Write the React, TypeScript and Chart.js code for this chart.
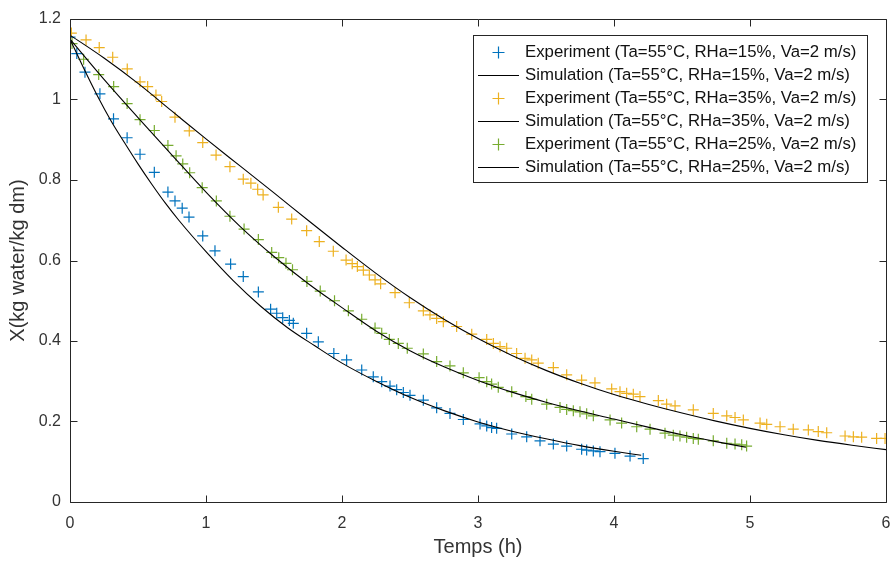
import React, { useEffect, useRef } from 'react';
import { Chart, registerables } from 'chart.js';

Chart.register(...registerables);

// ---- Data ----
const xTicks = [0, 1, 2, 3, 4, 5, 6];
const yTicks = [0, 0.2, 0.4, 0.6, 0.8, 1, 1.2];
const xTitle = 'Temps (h)';
const yTitle = 'X(kg water/kg dm)';

const labels = [
  'Experiment (Ta=55°C, RHa=15%, Va=2 m/s)',
  'Simulation (Ta=55°C, RHa=15%, Va=2 m/s)',
  'Experiment (Ta=55°C, RHa=35%, Va=2 m/s)',
  'Simulation (Ta=55°C, RHa=35%, Va=2 m/s)',
  'Experiment (Ta=55°C, RHa=25%, Va=2 m/s)',
  'Simulation (Ta=55°C, RHa=25%, Va=2 m/s)',
];

const colors = ['#0072BD', '#000000', '#EDB120', '#000000', '#77AC30', '#000000'];

const exp15: [number, number][] = [
  [0, 1.155], [0.05, 1.114], [0.11, 1.068], [0.22, 1.014], [0.32, 0.952], [0.42, 0.905],
  [0.515, 0.864], [0.62, 0.819], [0.72, 0.77], [0.772, 0.748], [0.825, 0.73], [0.875, 0.708],
  [0.976, 0.661], [1.066, 0.624], [1.181, 0.591], [1.274, 0.56], [1.385, 0.522], [1.475, 0.479],
  [1.52, 0.469], [1.564, 0.458], [1.613, 0.451], [1.642, 0.444], [1.74, 0.419], [1.826, 0.398],
  [1.94, 0.369], [2.034, 0.353], [2.145, 0.328], [2.23, 0.311], [2.292, 0.299], [2.353, 0.288],
  [2.402, 0.279], [2.451, 0.272], [2.5, 0.265], [2.598, 0.253], [2.696, 0.234], [2.794, 0.22],
  [2.892, 0.205], [3.015, 0.194], [3.064, 0.189], [3.1, 0.185], [3.137, 0.183], [3.248, 0.169],
  [3.358, 0.162], [3.456, 0.152], [3.554, 0.144], [3.652, 0.139], [3.762, 0.131], [3.799, 0.129],
  [3.848, 0.127], [3.897, 0.125], [4.007, 0.121], [4.118, 0.114], [4.215, 0.108],
];

const sim15: [number, number][] = [
  [0, 1.15], [0.1, 1.078], [0.2, 1.01], [0.3, 0.948], [0.4, 0.893], [0.5, 0.84], [0.6, 0.79],
  [0.7, 0.743], [0.8, 0.7], [1.0, 0.622], [1.2, 0.55], [1.4, 0.487], [1.6, 0.433], [1.8, 0.388],
  [2.0, 0.345], [2.25, 0.3], [2.5, 0.26], [2.75, 0.227], [3.0, 0.199], [3.25, 0.176],
  [3.5, 0.157], [3.75, 0.14], [4.0, 0.126], [4.2, 0.116],
];

const exp35: [number, number][] = [
  [0.01, 1.165], [0.118, 1.148], [0.215, 1.129], [0.314, 1.105], [0.421, 1.076], [0.515, 1.044],
  [0.571, 1.032], [0.632, 1.011], [0.674, 0.995], [0.772, 0.956], [0.877, 0.922], [0.976, 0.893],
  [1.074, 0.862], [1.176, 0.833], [1.274, 0.802], [1.33, 0.792], [1.38, 0.777], [1.42, 0.763],
  [1.532, 0.732], [1.63, 0.703], [1.74, 0.674], [1.833, 0.647], [1.936, 0.623], [2.03, 0.601],
  [2.075, 0.592], [2.113, 0.585], [2.157, 0.576], [2.201, 0.564], [2.243, 0.552], [2.284, 0.542],
  [2.39, 0.52], [2.495, 0.495], [2.598, 0.475], [2.647, 0.465], [2.696, 0.456], [2.745, 0.448],
  [2.843, 0.436], [2.954, 0.417], [3.064, 0.404], [3.113, 0.394], [3.162, 0.386], [3.211, 0.382],
  [3.284, 0.369], [3.346, 0.357], [3.395, 0.353], [3.443, 0.345], [3.554, 0.334], [3.652, 0.316],
  [3.762, 0.303], [3.86, 0.296], [3.983, 0.281], [4.044, 0.274], [4.093, 0.27], [4.142, 0.268],
  [4.191, 0.262], [4.326, 0.252], [4.387, 0.243], [4.449, 0.239], [4.583, 0.229], [4.73, 0.22],
  [4.829, 0.214], [4.89, 0.21], [4.951, 0.204], [5.074, 0.196], [5.123, 0.193], [5.221, 0.187],
  [5.318, 0.181], [5.429, 0.179], [5.502, 0.175], [5.564, 0.172], [5.699, 0.164], [5.76, 0.162],
  [5.821, 0.161], [5.931, 0.158], [5.993, 0.158],
];

const sim35: [number, number][] = [
  [0, 1.16], [0.25, 1.103], [0.5, 1.04], [0.75, 0.971], [1.0, 0.902], [1.25, 0.835], [1.5, 0.768],
  [1.75, 0.7], [2.0, 0.633], [2.25, 0.568], [2.5, 0.508], [2.75, 0.454], [3.0, 0.406], [3.25, 0.364],
  [3.5, 0.327], [3.75, 0.295], [4.0, 0.267], [4.25, 0.243], [4.5, 0.221], [4.75, 0.201],
  [5.0, 0.183], [5.25, 0.167], [5.5, 0.153], [5.75, 0.141], [6.0, 0.13],
];

const exp25: [number, number][] = [
  [0.015, 1.139], [0.1, 1.1], [0.211, 1.062], [0.321, 1.032], [0.42, 0.99], [0.515, 0.95],
  [0.62, 0.923], [0.72, 0.886], [0.78, 0.86], [0.829, 0.84], [0.88, 0.818], [0.972, 0.781],
  [1.076, 0.748], [1.176, 0.71], [1.28, 0.678], [1.385, 0.652], [1.483, 0.62], [1.535, 0.607],
  [1.588, 0.593], [1.636, 0.577], [1.742, 0.548], [1.84, 0.524], [1.945, 0.5], [2.047, 0.475],
  [2.145, 0.454], [2.243, 0.432], [2.292, 0.419], [2.348, 0.404], [2.414, 0.394], [2.48, 0.382],
  [2.598, 0.368], [2.696, 0.349], [2.794, 0.338], [2.892, 0.321], [3.008, 0.309], [3.064, 0.299],
  [3.1, 0.293], [3.149, 0.285], [3.248, 0.274], [3.352, 0.262], [3.395, 0.255], [3.505, 0.243],
  [3.603, 0.235], [3.652, 0.23], [3.701, 0.227], [3.75, 0.224], [3.799, 0.219], [3.848, 0.214],
  [3.971, 0.204], [4.056, 0.196], [4.167, 0.187], [4.265, 0.181], [4.375, 0.171], [4.436, 0.166],
  [4.485, 0.164], [4.534, 0.161], [4.583, 0.158], [4.62, 0.156], [4.73, 0.152], [4.829, 0.146],
  [4.89, 0.144], [4.939, 0.142], [4.975, 0.139],
];

const sim25: [number, number][] = [
  [0, 1.15], [0.25, 1.05], [0.5, 0.955], [0.75, 0.862], [1.0, 0.77], [1.25, 0.685], [1.5, 0.61],
  [1.75, 0.543], [2.0, 0.483], [2.25, 0.425], [2.5, 0.376], [2.75, 0.336], [3.0, 0.302],
  [3.25, 0.273], [3.5, 0.248], [3.75, 0.226], [4.0, 0.206], [4.25, 0.186], [4.5, 0.167],
  [4.75, 0.15], [4.97, 0.136],
];

const seriesData = [exp15, sim15, exp35, sim35, exp25, sim25];
const isSim = [false, true, false, true, false, true];

const FONT = '"Liberation Sans", Arial, sans-serif';
const AXIS_COLOR = '#262626';
const TEXT_COLOR = '#333333';

const toXY = (arr: [number, number][]) => arr.map(([x, y]) => ({ x, y }));

const axesPlugin = {
  id: 'matlabAxes',
  afterDraw(chart: any) {
    const { ctx, chartArea: a, scales } = chart;
    const xs = scales.x;
    const ys = scales.y;
    const L = Math.round(a.left) + 0.5;
    const R = Math.round(a.right) + 0.5;
    const T = Math.round(a.top) + 0.5;
    const B = Math.round(a.bottom) + 0.5;
    const tl = 7;
    ctx.save();
    ctx.strokeStyle = AXIS_COLOR;
    ctx.lineWidth = 1;
    ctx.beginPath();
    ctx.rect(L, T, R - L, B - T);
    xTicks.forEach((v) => {
      const px = Math.round(xs.getPixelForValue(v)) + 0.5;
      ctx.moveTo(px, B);
      ctx.lineTo(px, B - tl);
      ctx.moveTo(px, T);
      ctx.lineTo(px, T + tl);
    });
    yTicks.forEach((v) => {
      const py = Math.round(ys.getPixelForValue(v)) + 0.5;
      ctx.moveTo(L, py);
      ctx.lineTo(L + tl, py);
      ctx.moveTo(R, py);
      ctx.lineTo(R - tl, py);
    });
    ctx.stroke();
    ctx.restore();
  },
};

const legendPlugin = {
  id: 'matlabLegend',
  afterDraw(chart: any) {
    const { ctx } = chart;
    const bx = 473.5;
    const by = 35.5;
    const bw = 394;
    const bh = 147;
    const rowH = 23;
    const firstRow = 51.5;
    ctx.save();
    ctx.fillStyle = '#ffffff';
    ctx.fillRect(bx, by, bw, bh);
    ctx.strokeStyle = AXIS_COLOR;
    ctx.lineWidth = 1;
    ctx.strokeRect(bx, by, bw, bh);
    ctx.font = `16.8px ${FONT}`;
    ctx.textBaseline = 'middle';
    ctx.textAlign = 'left';
    chart.data.datasets.forEach((ds: any, i: number) => {
      const y = firstRow + i * rowH;
      const yy = Math.round(y) + 0.5;
      if (isSim[i]) {
        ctx.strokeStyle = '#000';
        ctx.lineWidth = 1;
        ctx.beginPath();
        ctx.moveTo(478, yy);
        ctx.lineTo(519, yy);
        ctx.stroke();
      } else {
        ctx.strokeStyle = colors[i];
        ctx.lineWidth = 1.2;
        ctx.beginPath();
        ctx.moveTo(498.5 - 6, yy);
        ctx.lineTo(498.5 + 6, yy);
        ctx.moveTo(498.5, yy - 6);
        ctx.lineTo(498.5, yy + 6);
        ctx.stroke();
      }
      ctx.fillStyle = '#111';
      ctx.fillText(ds.label, 525, y + 1);
    });
    ctx.restore();
  },
};

export default function App() {
  const canvasRef = useRef<HTMLCanvasElement | null>(null);

  useEffect(() => {
    const canvas = canvasRef.current;
    if (!canvas) return;
    const datasets = seriesData.map((arr, i) =>
      isSim[i]
        ? {
            label: labels[i],
            data: toXY(arr),
            showLine: true,
            borderColor: '#000000',
            backgroundColor: '#000000',
            borderWidth: 1.1,
            pointRadius: 0,
            pointHoverRadius: 0,
            cubicInterpolationMode: 'monotone' as const,
            order: 0,
          }
        : {
            label: labels[i],
            data: toXY(arr),
            showLine: false,
            pointStyle: 'cross' as const,
            pointRadius: 5.5,
            pointBorderWidth: 1.2,
            borderColor: colors[i],
            backgroundColor: colors[i],
            order: 1,
          }
    );

    const chart = new Chart(canvas, {
      type: 'scatter',
      data: { datasets },
      options: {
        responsive: false,
        animation: false,
        devicePixelRatio: 1,
        layout: { padding: { top: 19, right: 8, left: 0, bottom: 0 } },
        plugins: {
          legend: { display: false },
          tooltip: { enabled: false },
        },
        scales: {
          x: {
            type: 'linear',
            min: 0,
            max: 6,
            afterBuildTicks: (s: any) => {
              s.ticks = xTicks.map((v) => ({ value: v }));
            },
            afterFit: (s: any) => {
              s.height = 62;
              s.paddingLeft = 0;
              s.paddingRight = 0;
            },
            grid: { display: false, drawTicks: false },
            border: { display: false },
            ticks: {
              autoSkip: false,
              maxRotation: 0,
              padding: 12,
              color: TEXT_COLOR,
              font: { family: FONT, size: 16 },
              callback: (v: any) => String(v),
            },
            title: {
              display: true,
              text: xTitle,
              color: TEXT_COLOR,
              font: { family: FONT, size: 20 },
              padding: { top: 0, bottom: 5 },
            },
          },
          y: {
            type: 'linear',
            min: 0,
            max: 1.2,
            afterBuildTicks: (s: any) => {
              s.ticks = yTicks.map((v) => ({ value: v }));
            },
            afterFit: (s: any) => {
              s.width = 70;
              s.paddingTop = 0;
              s.paddingBottom = 0;
            },
            grid: { display: false, drawTicks: false },
            border: { display: false },
            ticks: {
              autoSkip: false,
              padding: 9,
              color: TEXT_COLOR,
              font: { family: FONT, size: 16 },
              callback: (v: any) => String(v),
            },
            title: {
              display: true,
              text: yTitle,
              color: TEXT_COLOR,
              font: { family: FONT, size: 20 },
              padding: { top: 6, bottom: 0 },
            },
          },
        },
      },
      plugins: [axesPlugin, legendPlugin],
    });

    return () => chart.destroy();
  }, []);

  return (
    <div style={{ position: 'absolute', left: 0, top: 0, width: 894, height: 564, background: '#ffffff' }}>
      <canvas ref={canvasRef} width={894} height={564} style={{ display: 'block' }} />
    </div>
  );
}
